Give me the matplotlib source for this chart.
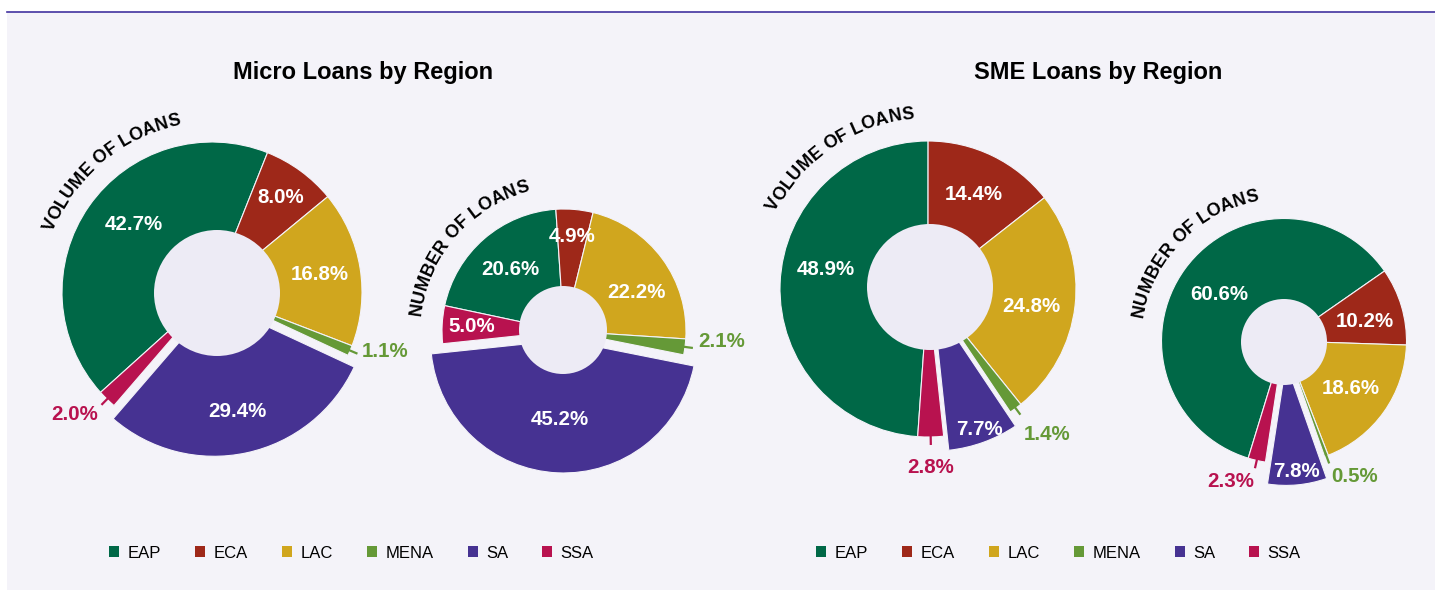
import numpy as np
import matplotlib
matplotlib.use("Agg")
import matplotlib.pyplot as plt
from matplotlib.patches import Circle, Rectangle, Patch
from matplotlib.lines import Line2D
from matplotlib.font_manager import FontProperties, findfont, get_font

plt.rcParams["font.family"] = ["Liberation Sans", "DejaVu Sans"]

# data
regions = ["EAP", "ECA", "LAC", "MENA", "SA", "SSA"]
micro_volume = [42.7, 8.0, 16.8, 1.1, 29.4, 2.0]
micro_number = [20.6, 4.9, 22.2, 2.1, 45.2, 5.0]
sme_volume = [48.9, 14.4, 24.8, 1.4, 7.7, 2.8]
sme_number = [60.6, 10.2, 18.6, 0.5, 7.8, 2.3]
titles = ["Micro Loans by Region", "SME Loans by Region"]
ring_titles = ["VOLUME OF LOANS", "NUMBER OF LOANS", "VOLUME OF LOANS", "NUMBER OF LOANS"]

colors = ["#006847", "#9e2819", "#d0a61e", "#659937", "#463292", "#b8124f"]
BG = "#f4f3f9"
HOLE = "#edebf5"
LINE = "#4232a0"

W, H = 1435, 590

# layout of each donut, in pixels / degrees
layouts = [
    dict(center=(212, 292), radius=150, hole=63, hole_shift=(5, 1), start=222,
         pull=10, grow=1.03, arc=(170, 130),
         label_r=[0.69, 0.78, 0.73, 0, 0.75, 0], label_da=[-6, 0, 0, 0, 0, 0],
         out_dy=[0, 0, 0, -4, 0, 6]),
    dict(center=(564, 331), radius=122, hole=44, hole_shift=(-1, -1), start=168,
         pull=9, grow=1.09, arc=(144, 139),
         label_r=[0.67, 0.78, 0.67, 0, 0.65, 0.76], label_da=[0, 0, -8, 0, 0, 0],
         out_dy=[0, 0, 0, -7, 0, 0]),
    dict(center=(928, 289), radius=148, hole=63, hole_shift=(2, -2), start=266,
         pull=15, grow=1.0, arc=(171, 124),
         label_r=[0.70, 0.71, 0.71, 0, 0.91, 0], label_da=[-9, 0, -3, 0, 0, 0],
         out_dy=[0, 0, 0, 16, 0, 8]),
    dict(center=(1284, 341), radius=122.5, hole=43, hole_shift=(0, 1), start=253,
         pull=22, grow=1.0, arc=(143, 135.5),
         label_r=[0.65, 0.68, 0.67, 0, 0.89, 0], label_da=[0, -3, 0, 0, 0, 0],
         out_dy=[0, 0, 0, 8, 0, 8]),
]

fig = plt.figure(figsize=(W / 100, H / 100), dpi=100, facecolor="white")
fig.add_artist(Rectangle((7 / W, 0), 1 - 7 / W, (H - 12) / H, transform=fig.transFigure,
                         facecolor=BG, edgecolor="none", zorder=0))
fig.add_artist(Line2D([7 / W, 1], [1 - 11.5 / H] * 2, color=LINE, lw=1.2, zorder=1))

arc_fp = FontProperties(family="Liberation Sans", weight="bold", size=13)
pct_fp = FontProperties(family="Liberation Sans", weight="bold", size=14.8)


def advances(text, fp):
    font = get_font(findfont(fp))
    font.set_size(fp.get_size_in_points(), fig.dpi)
    return [font.load_char(ord(c)).linearHoriAdvance / 65536 for c in text]


def arc_text(ax, text, radius_px, mid_deg, R):
    adv = advances(text, arc_fp)
    total = sum(adv)
    pos = 0.0
    for ch, a in zip(text, adv):
        s = pos + a / 2 - total / 2
        pos += a
        if ch == " ":
            continue
        th = np.deg2rad(mid_deg) - s / radius_px
        r = radius_px / R
        ax.text(r * np.cos(th), r * np.sin(th), ch, rotation=np.rad2deg(th) - 90,
                rotation_mode="anchor", ha="center", va="baseline",
                fontproperties=arc_fp, color="black")


def draw_donut(values, ring_title, lay):
    cx, cy = lay["center"]
    R = lay["radius"]
    S = 195
    ax = fig.add_axes([(cx - S) / W, 1 - (cy + S) / H, 2 * S / W, 2 * S / H])
    explode = [lay["pull"] / R if r == "SA" else 0 for r in regions]
    wedges, _ = ax.pie(values, colors=colors, startangle=lay["start"], counterclock=False,
                       explode=explode, wedgeprops=dict(edgecolor=BG, linewidth=0.8))
    sa = wedges[regions.index("SA")]
    sa.set_radius(lay["grow"])

    hx, hy = lay["hole_shift"]
    ax.add_patch(Circle((hx / R, -hy / R), lay["hole"] / R, facecolor=HOLE,
                        edgecolor="none", zorder=3))

    for i, (w, v) in enumerate(zip(wedges, values)):
        mid = np.deg2rad((w.theta1 + w.theta2) / 2)
        c, s = np.cos(mid), np.sin(mid)
        ox, oy = w.center
        txt = f"{v:.1f}%"
        if v < 3:
            r0 = w.r
            ax.plot([ox + (r0 - 2 / R) * c, ox + (r0 + 8 / R) * c],
                    [oy + (r0 - 2 / R) * s, oy + (r0 + 8 / R) * s],
                    color=colors[i], lw=1.6, solid_capstyle="butt", zorder=4)
            rl = r0 + 13 / R
            if c > 0.1:
                ha, va = "left", "center"
            elif c < -0.1:
                ha, va = "right", "center"
            else:
                ha, va = "center", "top"
            ax.text(ox + rl * c, oy + rl * s - lay["out_dy"][i] / R, txt, ha=ha, va=va,
                    color=colors[i], fontproperties=pct_fp, zorder=5)
        else:
            rl = lay["label_r"][i]
            a = mid + np.deg2rad(lay["label_da"][i])
            ax.text(ox + rl * np.cos(a), oy + rl * np.sin(a), txt, ha="center", va="center",
                    color="white", fontproperties=pct_fp, zorder=5)

    arc_r, arc_mid = lay["arc"]
    arc_text(ax, ring_title, arc_r, arc_mid, R)

    ax.set_xlim(-S / R, S / R)
    ax.set_ylim(-S / R, S / R)
    ax.set_aspect("equal")
    ax.axis("off")


all_values = [micro_volume, micro_number, sme_volume, sme_number]
for vals, rt, lay in zip(all_values, ring_titles, layouts):
    draw_donut(vals, rt, lay)

# titles
fig.text(363 / W, 1 - 73 / H, titles[0], ha="center", va="center", fontsize=17, fontweight="bold")
fig.text(1098 / W, 1 - 73 / H, titles[1], ha="center", va="center", fontsize=17, fontweight="bold")

# legends
handles = [Patch(facecolor=c, edgecolor="none") for c in colors]
for xc in (351.5, 1058.5):
    fig.legend(handles, regions, loc="center", bbox_to_anchor=(xc / W, 1 - 553 / H),
               ncol=6, frameon=False, fontsize=12, handlelength=0.6, handleheight=0.6,
               handletextpad=0.5, columnspacing=2.05, borderpad=0, borderaxespad=0)

fig.savefig("out.png", dpi=100, facecolor=fig.get_facecolor())
